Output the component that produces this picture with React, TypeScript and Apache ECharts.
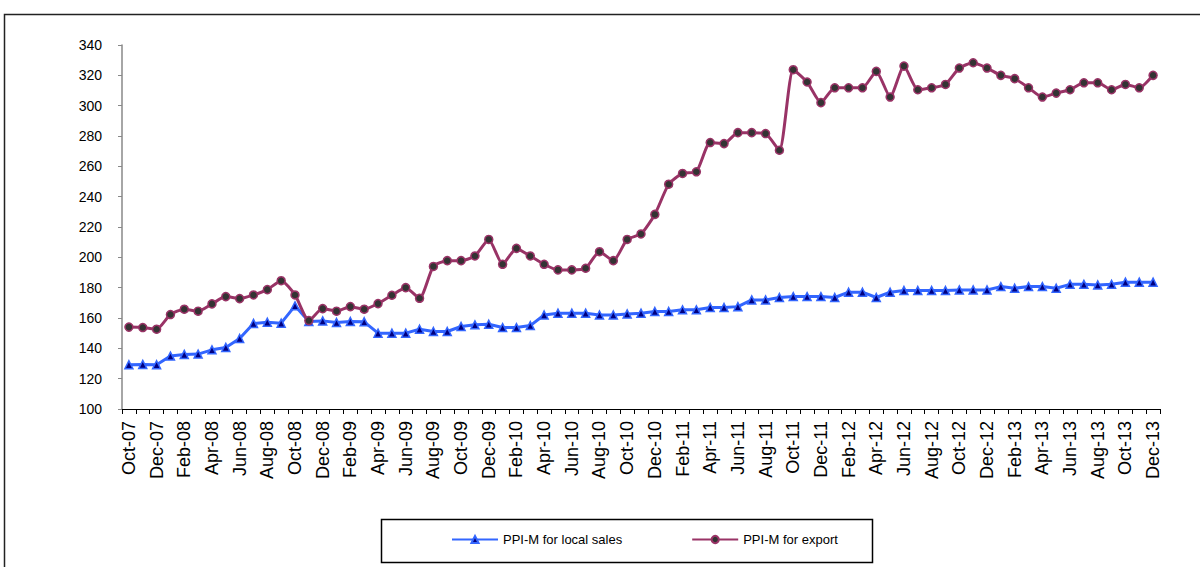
import React, { useEffect, useRef } from "react";
import * as echarts from "echarts";

const months: string[] = [
  "Oct-07","Nov-07","Dec-07","Jan-08","Feb-08","Mar-08","Apr-08","May-08","Jun-08","Jul-08","Aug-08","Sep-08",
  "Oct-08","Nov-08","Dec-08","Jan-09","Feb-09","Mar-09","Apr-09","May-09","Jun-09","Jul-09","Aug-09","Sep-09",
  "Oct-09","Nov-09","Dec-09","Jan-10","Feb-10","Mar-10","Apr-10","May-10","Jun-10","Jul-10","Aug-10","Sep-10",
  "Oct-10","Nov-10","Dec-10","Jan-11","Feb-11","Mar-11","Apr-11","May-11","Jun-11","Jul-11","Aug-11","Sep-11",
  "Oct-11","Nov-11","Dec-11","Jan-12","Feb-12","Mar-12","Apr-12","May-12","Jun-12","Jul-12","Aug-12","Sep-12",
  "Oct-12","Nov-12","Dec-12","Jan-13","Feb-13","Mar-13","Apr-13","May-13","Jun-13","Jul-13","Aug-13","Sep-13",
  "Oct-13","Nov-13","Dec-13",
];

const localSales: number[] = [
  129.2, 129.4, 129.2, 134.9, 136, 136.2, 139, 140.6, 146.5, 156.4,
  157.2, 156.6, 168, 157.7, 158.1, 157, 157.7, 157.5, 150, 150,
  150, 152.6, 151.1, 151.1, 154.4, 155.5, 155.9, 153.7, 153.7, 155,
  162, 163.2, 163.2, 163.2, 162, 162, 162.7, 163.2, 164.3, 164.3,
  165.4, 165.4, 166.9, 166.9, 167.5, 171.9, 171.9, 173.5, 174.1, 174.1,
  174.1, 173.5, 177, 177, 173.5, 177, 178.1, 178.1, 178.1, 178.1,
  178.5, 178.5, 178.5, 180.7, 179.6, 180.7, 180.7, 179.6, 182.2, 182.2,
  181.8, 182.2, 183.6, 183.6, 183.6,
];

const exportSales: number[] = [
  154, 153.7, 152.6, 162.3, 165.8, 164.5, 169.3, 174.1, 172.8, 175.2,
  178.7, 184.6, 175.2, 158.3, 166.2, 164.5, 167.5, 165.8, 169.5, 175,
  180, 173, 194, 197.8, 197.8, 200.9, 211.8, 195.4, 205.9, 200.9,
  195.4, 191.7, 191.7, 192.8, 203.7, 197.8, 211.8, 215.4, 228.3, 248.2,
  255.3, 256.4, 275.7, 275, 282.2, 282.2, 281.6, 270.6, 323.7, 315.6,
  302, 311.8, 311.8, 311.8, 322.6, 305.7, 326.1, 310.5, 311.8, 314,
  324.8, 328.3, 324.8, 320, 317.8, 311.8, 305.7, 308.3, 310.5, 315.1,
  315.1, 310.5, 314, 311.8, 320,
];

const seriesNames = ["PPI-M for local sales", "PPI-M for export"];

export default function App() {
  const ref = useRef<HTMLDivElement>(null);
  useEffect(() => {
    if (!ref.current) return;
    const chart = echarts.init(ref.current, null, { renderer: "svg" });
    const font = "'Liberation Sans', Arial, sans-serif";
    chart.setOption({
      animation: false,
      backgroundColor: "#fff",
      textStyle: { fontFamily: font },
      grid: { left: 122, top: 45, right: 40, bottom: 158, containLabel: false },
      graphic: [
        {
          type: "rect",
          shape: { x: 4.5, y: 14.5, width: 1250, height: 600 },
          style: { fill: "none", stroke: "#222", lineWidth: 1.5 },
          silent: true,
        },
        {
          type: "rect",
          shape: { x: 381.5, y: 519.5, width: 491, height: 43 },
          style: { fill: "none", stroke: "#000", lineWidth: 1.5 },
          silent: true,
        },
      ],
      legend: {
        left: 451,
        top: 533,
        padding: 0,
        itemWidth: 46,
        itemHeight: 9,
        itemGap: 69,
        textStyle: { fontFamily: font, fontSize: 13, color: "#000" },
        data: seriesNames,
      },
      xAxis: {
        type: "category",
        data: months,
        boundaryGap: true,
        axisLine: { lineStyle: { color: "#000", width: 1 } },
        axisTick: { show: true, interval: 0, length: 5, lineStyle: { color: "#000" } },
        axisLabel: {
          interval: 1,
          rotate: 90,
          fontSize: 18,
          color: "#000",
          margin: 12,
          fontFamily: font,
        },
        splitLine: { show: false },
      },
      yAxis: {
        type: "value",
        min: 100,
        max: 340,
        interval: 20,
        axisLine: { show: true, lineStyle: { color: "#888", width: 1.5 } },
        axisTick: { show: true, length: 4, lineStyle: { color: "#888" } },
        axisLabel: { fontSize: 14, color: "#000", margin: 20, fontFamily: font },
        splitLine: { show: false },
      },
      series: [
        {
          name: seriesNames[0],
          type: "line",
          data: localSales,
          symbol: "triangle",
          symbolSize: 8,
          lineStyle: { color: "#3366FF", width: 3 },
          itemStyle: { color: "#000080", borderColor: "#3366FF", borderWidth: 1.5 },
          z: 2,
        },
        {
          name: seriesNames[1],
          type: "line",
          data: exportSales,
          symbol: "circle",
          symbolSize: 8,
          smooth: 0.2,
          lineStyle: { color: "#993366", width: 3 },
          itemStyle: { color: "#333333", borderColor: "#993366", borderWidth: 1.5 },
          z: 3,
        },
      ],
    });
    return () => chart.dispose();
  }, []);
  return (
    <div
      ref={ref}
      style={{ position: "fixed", left: 0, top: 0, width: 1200, height: 567 }}
    />
  );
}
